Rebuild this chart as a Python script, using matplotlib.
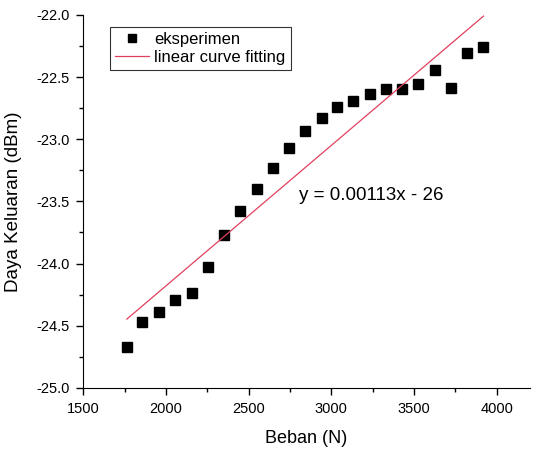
import numpy as np
import matplotlib
matplotlib.use("Agg")
import matplotlib.pyplot as plt
from matplotlib.ticker import MultipleLocator

plt.rcParams['font.family'] = ['Liberation Sans', 'DejaVu Sans']

# data
beban = [1764, 1858, 1959, 2058, 2157, 2254, 2352, 2449, 2550, 2645, 2746,
         2842, 2941, 3037, 3134, 3235, 3332, 3429, 3527, 3628, 3723, 3820, 3920]
daya = [-24.67, -24.47, -24.39, -24.29, -24.24, -24.03, -23.77, -23.58, -23.40,
        -23.23, -23.07, -22.935, -22.83, -22.74, -22.69, -22.64, -22.60, -22.60,
        -22.56, -22.44, -22.59, -22.31, -22.26]
fit_slope = 0.00113
fit_intercept = -26.44
fit_label = "y = 0.00113x - 26"

fig = plt.figure(figsize=(5.33, 4.49), dpi=100)
ax = fig.add_axes([0.156, 0.136, 0.838, 0.831])

xf = np.array([beban[0], beban[-1]])
ax.plot(beban, daya, 's', color='black', markersize=6.5, label='eksperimen')
ax.plot(xf, fit_slope * xf + fit_intercept, color='#e0405e', lw=0.9,
        label='linear curve fitting')

ax.text(3240, -23.45, fit_label, fontsize=13.5, ha='center', va='center')

ax.set_xlim(1500, 4200)
ax.set_ylim(-25.0, -22.0)
ax.xaxis.set_major_locator(MultipleLocator(500))
ax.xaxis.set_minor_locator(MultipleLocator(250))
ax.yaxis.set_major_locator(MultipleLocator(0.5))
ax.yaxis.set_minor_locator(MultipleLocator(0.25))
ax.yaxis.set_major_formatter(matplotlib.ticker.FormatStrFormatter('%.1f'))
ax.tick_params(which='major', direction='out', length=5, width=1, labelsize=10.5,
               pad=5)
ax.tick_params(which='minor', direction='out', length=3, width=1)
ax.spines['top'].set_visible(False)
ax.spines['right'].set_visible(False)

ax.set_xlabel('Beban (N)', fontsize=13, labelpad=10)
ax.set_ylabel('Daya Keluaran (dBm)', fontsize=13.5, labelpad=10)

leg = ax.legend(loc='upper left', bbox_to_anchor=(0.042, 0.99), fontsize=12,
                frameon=True, fancybox=False, edgecolor='black',
                handlelength=2.0, borderpad=0.3, labelspacing=0.2,
                handletextpad=0.35, markerscale=0.8)
leg.get_frame().set_linewidth(0.8)

fig.savefig('out.png', dpi=100)
